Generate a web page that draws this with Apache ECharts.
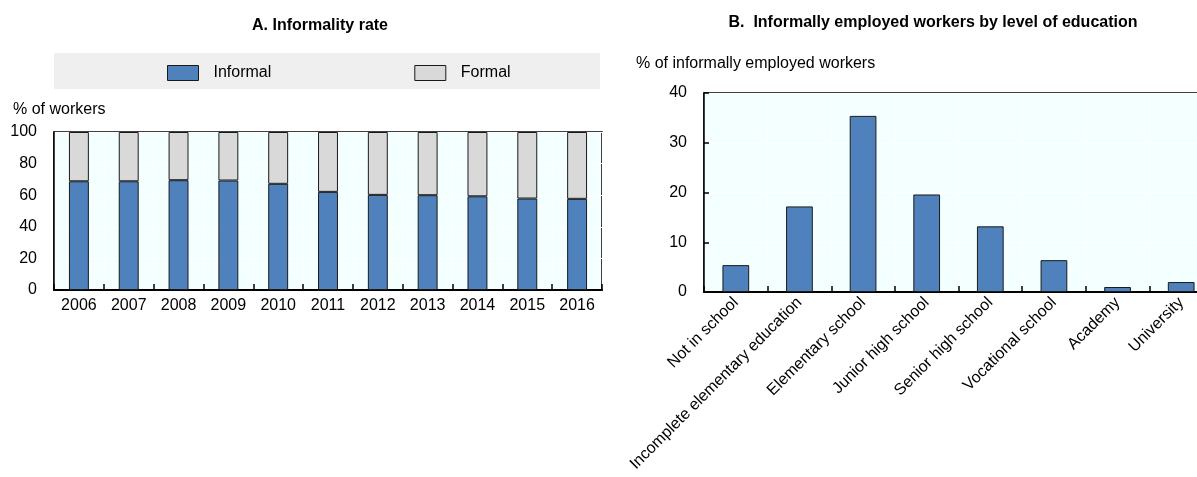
<!DOCTYPE html>
<html>
<head>
<meta charset="utf-8">
<script src="https://cdn.jsdelivr.net/npm/echarts@6/dist/echarts.min.js"></script>
<style>
html,body{margin:0;padding:0;background:#fff;overflow:hidden;}
#c{width:1220px;height:477px;}
</style>
</head>
<body>
<div id="c"></div>
<script>
// Panel A data
var years = ['2006','2007','2008','2009','2010','2011','2012','2013','2014','2015','2016'];
var informal = [68.8, 68.8, 69.5, 69.3, 67.2, 62.1, 60.2, 60.0, 59.3, 57.9, 57.7];
var formal = [31.2, 31.2, 30.5, 30.7, 32.8, 37.9, 39.8, 40.0, 40.7, 42.1, 42.3];
// Panel B data
var eduLevels = ['Not in school','Incomplete elementary education','Elementary school','Junior high school','Senior high school','Vocational school','Academy','University'];
var eduShares = [5.4, 17.2, 35.4, 19.6, 13.2, 6.4, 1.0, 2.0];

var FONT = "'Liberation Sans', Arial, sans-serif";
var BLUE = '#4F81BD', GREY = '#D9D9D9', BG = '#F4FFFF', EDGE = '#1a1a1a';

var chart = echarts.init(document.getElementById('c'), null, {renderer:'canvas'});
var txt = {fontFamily: FONT, fontSize: 16, color: '#000'};

chart.setOption({
  animation: false,
  textStyle: {fontFamily: FONT},
  graphic: [{
    type: 'rect', left: 54, top: 53, z: -1,
    shape: {width: 546, height: 36},
    style: {fill: '#EFEFEF'}
  }],
  title: [
    {text: 'A. Informality rate', left: 320, top: 18, textAlign: 'center', padding: 0,
     textStyle: {fontFamily: FONT, fontSize: 16, fontWeight: 'bold', color: '#000'}},
    {text: 'B.  Informally employed workers by level of education', left: 933, top: 15, textAlign: 'center', padding: 0,
     textStyle: {fontFamily: FONT, fontSize: 16, fontWeight: 'bold', color: '#000'}},
    {text: '% of workers', left: 13, top: 102, padding: 0,
     textStyle: {fontFamily: FONT, fontSize: 16, fontWeight: 'normal', color: '#000'}},
    {text: '% of informally employed workers', left: 636, top: 56, padding: 0,
     textStyle: {fontFamily: FONT, fontSize: 16, fontWeight: 'normal', color: '#000'}}
  ],
  legend: {
    data: ['Informal','Formal'],
    left: 167, top: 65, padding: 0,
    itemWidth: 31, itemHeight: 15, itemGap: 143,
    icon: 'rect',
    textStyle: {fontFamily: FONT, fontSize: 16, color: '#000', padding: [0,0,0,10]},
    itemStyle: {borderColor: EDGE, borderWidth: 1}
  },
  grid: [
    {left: 54, top: 132, width: 548, height: 158, show: true, backgroundColor: BG, borderColor: '#000', borderWidth: 1.5},
    {left: 704, top: 93, width: 509, height: 199, show: true, backgroundColor: BG, borderColor: '#000', borderWidth: 1.5}
  ],
  xAxis: [
    {type: 'category', gridIndex: 0, data: years,
     axisLine: {lineStyle: {color: '#000', width: 2}},
     axisTick: {show: true, inside: true, length: 6, lineStyle: {color: '#000', width: 1.5}},
     axisLabel: Object.assign({margin: 8}, txt),
     splitLine: {show: true, lineStyle: {color: '#fff', width: 1}}},
    {type: 'category', gridIndex: 1, data: eduLevels,
     axisLine: {lineStyle: {color: '#000', width: 2}},
     axisTick: {show: true, inside: true, length: 6, lineStyle: {color: '#000', width: 1.5}},
     axisLabel: Object.assign({margin: 8, rotate: 45, interval: 0}, txt),
     splitLine: {show: true, lineStyle: {color: '#fff', width: 1}}}
  ],
  yAxis: [
    {type: 'value', gridIndex: 0, min: 0, max: 100, interval: 20,
     axisLine: {show: true, lineStyle: {color: '#000', width: 1.5}},
     axisTick: {show: false},
     axisLabel: Object.assign({margin: 17}, txt),
     splitLine: {show: true, lineStyle: {color: '#fff', width: 1}}},
    {type: 'value', gridIndex: 1, min: 0, max: 40, interval: 10,
     axisLine: {show: true, lineStyle: {color: '#000', width: 1.5}},
     axisTick: {show: true, inside: true, length: 5, lineStyle: {color: '#000', width: 1.5}},
     axisLabel: Object.assign({margin: 17}, txt),
     splitLine: {show: true, lineStyle: {color: '#fff', width: 1}}}
  ],
  series: [
    {name: 'Informal', type: 'bar', stack: 'a', xAxisIndex: 0, yAxisIndex: 0, data: informal,
     barWidth: '40%', itemStyle: {color: BLUE, borderColor: EDGE, borderWidth: 1}},
    {name: 'Formal', type: 'bar', stack: 'a', xAxisIndex: 0, yAxisIndex: 0, data: formal,
     barWidth: '40%', itemStyle: {color: GREY, borderColor: EDGE, borderWidth: 1}},
    {name: 'Share', type: 'bar', xAxisIndex: 1, yAxisIndex: 1, data: eduShares,
     barWidth: '42%', itemStyle: {color: BLUE, borderColor: EDGE, borderWidth: 1}}
  ]
});
</script>
</body>
</html>
